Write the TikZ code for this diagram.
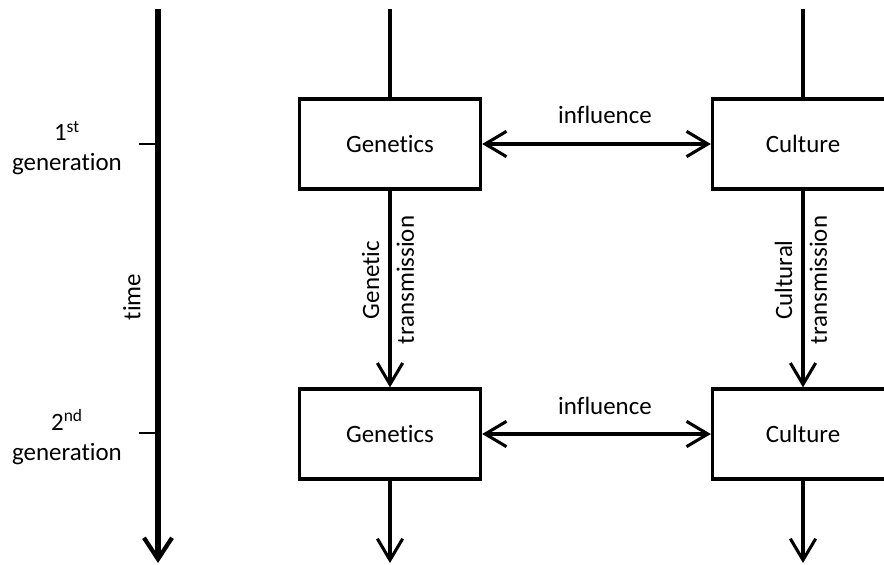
\documentclass[tikz,border=0pt]{standalone}
\usepackage{fontspec}
\setmainfont{Carlito}[Ligatures=NoCommon]
\usetikzlibrary{arrows.meta}
\tikzset{
  openbarb/.tip={Straight Barb[length=16pt, width=19pt, line width=2.3pt]},
  timebarb/.tip={Straight Barb[length=16pt, width=21pt, line width=3.2pt]}
}
\begin{document}
\begin{tikzpicture}[
  x=0.75pt, y=-0.75pt,
  font=\fontsize{18.7}{22.5}\selectfont,
  box/.style={draw, line width=2.5pt, minimum width=135.75pt, minimum height=67.5pt, inner sep=0pt, fill=white},
  flow/.style={line width=2.3pt, -{openbarb}},
  twoway/.style={line width=2.3pt, {openbarb}-{openbarb}},
  plain/.style={line width=2.3pt},
  timeaxis/.style={line width=4.5pt, -{timebarb}},
  tick/.style={line width=1pt},
  lab/.style={align=center, inner sep=0pt},
  rotlab/.style={align=center, inner sep=0pt, rotate=90, font=\fontsize{18.7}{26}\selectfont}
]
\clip (0,0) rectangle (884,564);
\useasboundingbox (0,0) rectangle (884,564);

% time axis with generation ticks
\coordinate (t0) at (158,9);
\coordinate (t1) at (158,563);
\draw[timeaxis] (t0) -- (t1);
\coordinate (k1a) at (139,144);
\coordinate (k1b) at (158,144);
\coordinate (k2a) at (139,433);
\coordinate (k2b) at (158,433);
\draw[tick] (k1a) -- (k1b);
\draw[tick] (k2a) -- (k2b);
\node[rotlab] (time) at (132,297) {time};
\node[lab] (gen1) at (67,148) {1\textsuperscript{st}\\generation};
\node[lab] (gen2) at (67,437) {2\textsuperscript{nd}\\generation};

% boxes
\node[box] (g1) at (390,144) {Genetics};
\node[box] (c1) at (803,144) {Culture};
\node[box] (g2) at (390,434) {Genetics};
\node[box] (c2) at (803,434) {Culture};

% incoming and outgoing lines
\coordinate (gtop) at (390,9);
\coordinate (ctop) at (803,9);
\coordinate (gbot) at (390,563);
\coordinate (cbot) at (803,563);
\draw[plain] (gtop) -- (g1.north);
\draw[plain] (ctop) -- (c1.north);
\draw[flow] (g2.south) -- (gbot);
\draw[flow] (c2.south) -- (cbot);

% transmission between generations
\draw[flow] (g1.south) -- (g2.north);
\draw[flow] (c1.south) -- (c2.north);
\node[rotlab] (gtr) at (388,280) {Genetic\\transmission};
\node[rotlab] (ctr) at (801,280) {Cultural\\transmission};

% mutual influence
\draw[twoway] (g1.east) -- (c1.west);
\draw[twoway] (g2.east) -- (c2.west);
\node[lab] (inf1) at (605,115) {influence};
\node[lab] (inf2) at (605,406) {influence};
\end{tikzpicture}
\end{document}
